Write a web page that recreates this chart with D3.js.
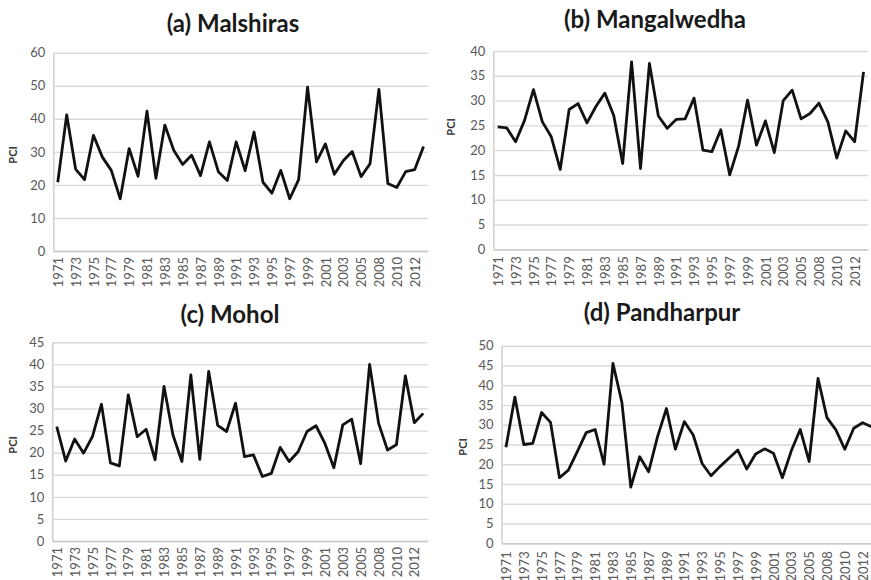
<!DOCTYPE html>
<html>
<head>
<meta charset="utf-8">
<script src="https://cdn.jsdelivr.net/npm/d3@7"></script>
<style>
  html, body { margin: 0; padding: 0; background: #fff; }
  svg { display: block; }
  .tick text { font-family: Lato, "Open Sans", sans-serif; font-size: 13px; fill: #595959; }
</style>
</head>
<body>
<svg id="chart" width="871" height="580"></svg>
<script>
// Years of record (2006 absent from the series)
const years = [
  1971, 1972, 1973, 1974, 1975, 1976, 1977, 1978, 1979, 1980,
  1981, 1982, 1983, 1984, 1985, 1986, 1987, 1988, 1989, 1990,
  1991, 1992, 1993, 1994, 1995, 1996, 1997, 1998, 1999, 2000,
  2001, 2002, 2003, 2004, 2005, 2007, 2008, 2009, 2010, 2011,
  2012, 2013
];

// Precipitation Concentration Index per taluka
const malshiras = [
  20.8, 41.2, 24.8, 21.6, 35.0, 28.4, 24.4, 15.8, 31.0, 22.6,
  42.3, 22.0, 38.1, 30.5, 26.2, 29.0, 22.8, 33.0, 24.0, 21.3,
  33.0, 24.3, 36.0, 20.8, 17.5, 24.4, 15.8, 21.6, 49.6, 27.0,
  32.4, 23.2, 27.3, 30.1, 22.5, 26.4, 48.9, 20.4, 19.2, 24.0,
  24.6, 31.6
];
const mangalwedha = [
  24.7, 24.5, 21.7, 26.0, 32.2, 25.7, 22.7, 16.1, 28.2, 29.4,
  25.5, 28.8, 31.5, 27.0, 17.3, 37.8, 16.3, 37.5, 26.9, 24.4,
  26.2, 26.3, 30.5, 20.0, 19.7, 24.1, 15.0, 20.8, 30.1, 21.0,
  25.9, 19.5, 30.0, 32.1, 26.3, 27.4, 29.5, 25.7, 18.4, 23.9,
  21.7, 35.8
];
const mohol = [
  25.9, 18.1, 23.1, 19.9, 23.7, 31.0, 17.7, 17.0, 33.1, 23.6,
  25.3, 18.4, 35.0, 24.0, 18.0, 37.6, 18.5, 38.4, 26.2, 24.8,
  31.2, 19.1, 19.5, 14.6, 15.3, 21.2, 18.0, 20.2, 24.8, 26.1,
  22.1, 16.6, 26.3, 27.6, 17.5, 40.0, 26.7, 20.6, 21.8, 37.4,
  26.8, 28.9
];
const pandharpur = [
  24.3, 37.0, 25.0, 25.3, 33.1, 30.6, 16.6, 18.5, 23.2, 28.0,
  28.8, 20.0, 45.5, 35.7, 14.2, 21.9, 18.1, 27.0, 34.1, 23.8,
  30.8, 27.4, 20.2, 17.1, 19.4, 21.5, 23.6, 18.8, 22.6, 23.9,
  22.8, 16.6, 23.4, 28.8, 20.7, 41.7, 31.8, 28.7, 23.8, 29.1,
  30.5, 29.5
];

// Value-axis ticks per panel
const ticksA = [0, 10, 20, 30, 40, 50, 60];
const ticksB = [0, 5, 10, 15, 20, 25, 30, 35, 40];
const ticksC = [0, 5, 10, 15, 20, 25, 30, 35, 40, 45];
const ticksD = [0, 5, 10, 15, 20, 25, 30, 35, 40, 45, 50];

const titles = ["(a) Malshiras", "(b) Mangalwedha", "(c) Mohol", "(d) Pandharpur"];

const svg = d3.select("#chart");

const panels = [
  { title: titles[0], values: malshiras,   ticks: ticksA,
    left: 53.3, right: 428, top: 52.7, bottom: 251,
    titleX: 233, titleY: 32, pciX: 13, pciY: 155, labelGap: 6 },
  { title: titles[1], values: mangalwedha, ticks: ticksB,
    left: 493.3, right: 868, top: 51, bottom: 249.3,
    titleX: 655, titleY: 28, pciX: 451, pciY: 127, labelGap: 7 },
  { title: titles[2], values: mohol,       ticks: ticksC,
    left: 52.3, right: 427.7, top: 342.3, bottom: 541,
    titleX: 230, titleY: 323, pciX: 13, pciY: 445, labelGap: 6 },
  { title: titles[3], values: pandharpur,  ticks: ticksD,
    left: 501.5, right: 876, top: 345.7, bottom: 543.3,
    titleX: 662, titleY: 321, pciX: 463, pciY: 447, labelGap: 8 }
];

function drawPanel(p) {
  const g = svg.append("g");

  const x = d3.scalePoint()
    .domain(years)
    .range([p.left, p.right])
    .padding(0.5);

  const y = d3.scaleLinear()
    .domain([0, d3.max(p.ticks)])
    .range([p.bottom, p.top]);

  // Value axis with horizontal gridlines
  const yAxis = g.append("g")
    .attr("transform", `translate(${p.left},0)`)
    .call(d3.axisLeft(y)
      .tickValues(p.ticks)
      .tickSizeInner(-(p.right - p.left))
      .tickSizeOuter(0)
      .tickPadding(8));
  yAxis.select(".domain").attr("stroke", "#c8c8c8").attr("stroke-width", 1.3);
  yAxis.selectAll(".tick line").attr("stroke", "#d9d9d9").attr("stroke-width", 1.4);

  // Category axis with every other year labelled, rotated
  const xAxis = g.append("g")
    .attr("transform", `translate(0,${p.bottom})`)
    .call(d3.axisBottom(x)
      .tickSize(0)
      .tickPadding(0)
      .tickFormat((d, i) => (i % 2 === 0 ? d : "")));
  xAxis.select(".domain").attr("stroke", "#c8c8c8").attr("stroke-width", 1.3);
  xAxis.selectAll(".tick text")
    .attr("transform", "rotate(-90)")
    .attr("text-anchor", "end")
    .attr("x", -p.labelGap)
    .attr("y", 0)
    .attr("dy", "0.36em");

  // PCI series
  const line = d3.line()
    .x((d, i) => x(years[i]))
    .y(d => y(d));
  g.append("path")
    .datum(p.values)
    .attr("d", line)
    .attr("fill", "none")
    .attr("stroke", "#111")
    .attr("stroke-width", 2.8)
    .attr("stroke-linejoin", "round");

  // Panel title
  g.append("text")
    .attr("x", p.titleX)
    .attr("y", p.titleY)
    .attr("text-anchor", "middle")
    .attr("font-family", "Lato, 'Open Sans', sans-serif")
    .attr("font-weight", "bold")
    .attr("font-size", 24)
    .attr("fill", "#1a1a1a")
    .text(p.title);

  // Axis title
  g.append("text")
    .attr("transform", `translate(${p.pciX},${p.pciY}) rotate(-90)`)
    .attr("text-anchor", "middle")
    .attr("dy", "0.35em")
    .attr("font-family", "Lato, 'Open Sans', sans-serif")
    .attr("font-weight", "bold")
    .attr("font-size", 11)
    .attr("fill", "#333")
    .text("PCI");
}

panels.forEach(drawPanel);
</script>
</body>
</html>
